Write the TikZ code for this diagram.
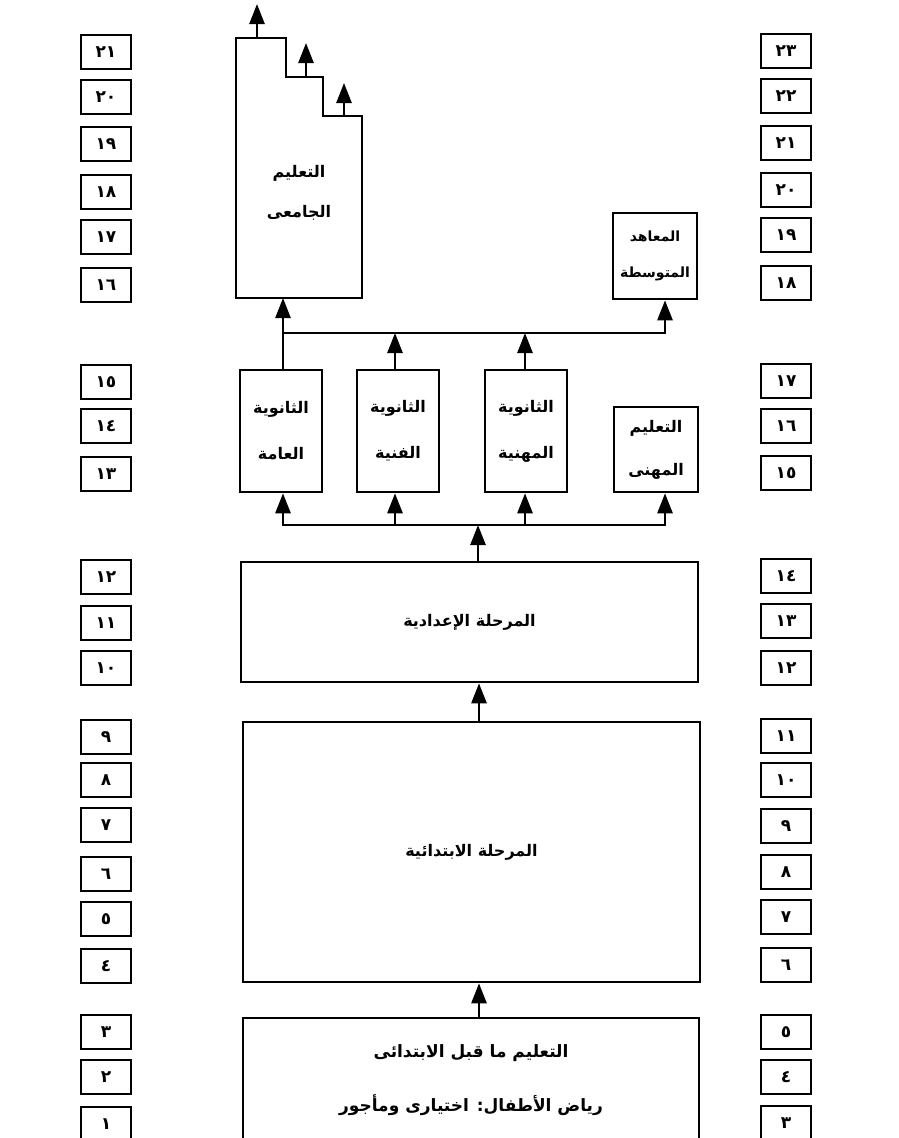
\documentclass[tikz,border=0pt]{standalone}
\usepackage{fontspec}
\TeXXeTstate=1
\newfontfamily\arabicfont[Script=Arabic]{DejaVu Sans}
\usetikzlibrary{arrows.meta}
\tikzset{
  frame/.style={draw=black, line width=2.6pt},
  stagebox/.style={frame, inner sep=0pt, align=center,
    font=\arabicfont\bfseries\fontsize{16}{#1}\selectfont},
  stagebox/.default=44,
  yearbox/.style={frame, line width=2.2pt, minimum width=50pt, minimum height=34pt,
    inner sep=0pt, font=\arabicfont\bfseries\fontsize{17}{18}\selectfont},
  arr/.style={line width=2.6pt, -{Triangle[length=20pt,width=15pt]}},
  link/.style={line width=2.6pt, line cap=rect},
  lbl/.style={inner sep=0pt, align=center, font=\arabicfont\bfseries\fontsize{16}{#1}\selectfont},
  lbl/.default=40,
  prelbl/.style={inner sep=0pt, font=\arabicfont\bfseries\fontsize{17}{20}\selectfont}
}
\begin{document}
\begin{tikzpicture}[x=1pt,y=-1pt]
\clip (0,0) rectangle (899,1138);
\fill[white] (0,0) rectangle (899,1138);

% ---- year boxes, left column
\foreach \t/\yy/\n in {٢١/52/l21, ٢٠/97/l20, ١٩/144/l19, ١٨/192/l18, ١٧/237/l17, ١٦/285/l16,
  ١٥/382/l15, ١٤/426/l14, ١٣/474/l13, ١٢/577/l12, ١١/623/l11, ١٠/668/l10,
  ٩/737/l9, ٨/780/l8, ٧/825/l7, ٦/874/l6, ٥/919/l5, ٤/966/l4,
  ٣/1032/l3, ٢/1077/l2, ١/1124/l1}
  \node[yearbox] (\n) at (106,\yy) {\t};
% ---- year boxes, right column
\foreach \t/\yy/\n in {٢٣/51/r23, ٢٢/96/r22, ٢١/143/r21, ٢٠/190/r20, ١٩/235/r19, ١٨/283/r18,
  ١٧/381/r17, ١٦/426/r16, ١٥/473/r15, ١٤/576/r14, ١٣/621/r13, ١٢/668/r12,
  ١١/736/r11, ١٠/780/r10, ٩/826/r9, ٨/872/r8, ٧/917/r7, ٦/965/r6,
  ٥/1032/r5, ٤/1077/r4, ٣/1123/r3}
  \node[yearbox] (\n) at (786,\yy) {\t};

% ---- university (stepped outline)
\draw[frame, line join=miter] (236,298) -- (236,38) -- (286,38) -- (286,77) -- (323,77)
  -- (323,116) -- (362,116) -- (362,298) -- cycle;
\node[lbl=40] (univ) at (299,193) {\beginR التعليم\endR\\\beginR الجامعى\endR};
\coordinate (ub) at (283,298);
\coordinate (s1) at (257,38);  \coordinate (e1) at (257,4);
\coordinate (s2) at (306,77);  \coordinate (e2) at (306,43);
\coordinate (s3) at (344,116); \coordinate (e3) at (344,83);
\draw[arr] (s1) -- (e1);
\draw[arr] (s2) -- (e2);
\draw[arr] (s3) -- (e3);

% ---- intermediate institutes
\node[stagebox=36, minimum width=84pt, minimum height=86pt,
  font=\arabicfont\bfseries\fontsize{14}{36}\selectfont] (inst) at (655,256)
  {\beginR المعاهد\endR\\\beginR المتوسطة\endR};

% ---- secondary level
\node[stagebox=46, minimum width=82pt, minimum height=122pt] (gen) at (281,431)
  {\beginR الثانوية\endR\\\beginR العامة\endR};
\node[stagebox=46, minimum width=82pt, minimum height=122pt] (tech) at (398,431)
  {\beginR الثانوية\endR\\\beginR الفنية\endR};
\node[stagebox=46, minimum width=82pt, minimum height=122pt] (vsec) at (526,431)
  {\beginR الثانوية\endR\\\beginR المهنية\endR};
\node[stagebox=43, minimum width=84pt, minimum height=85pt] (voc) at (656,449.5)
  {\beginR التعليم\endR\\\beginR المهنى\endR};

% ---- preparatory, primary, pre-primary
\node[stagebox, minimum width=457pt, minimum height=120pt] (prep) at (469.5,622)
  {\beginR المرحلة الإعدادية\endR};
\node[stagebox, minimum width=457pt, minimum height=260pt] (prim) at (471.5,852)
  {\beginR المرحلة الابتدائية\endR};
\node[frame, minimum width=456pt, minimum height=160pt, inner sep=0pt] (pre) at (471,1098) {};
\node[prelbl] (preA) at (471,1053) {\beginR التعليم ما قبل الابتدائى\endR};
\node[prelbl] (preB) at (471,1105) {\beginR رياض الأطفال: اختيارى ومأجور\endR};

% ---- connectors
\coordinate (pa) at (479,0);
\draw[arr] (prim.north -| pa) -- (prep.south -| pa);
\draw[arr] (pre.north -| pa) -- (prim.south -| pa);

% lower bus
\coordinate (j1) at (283,525);
\coordinate (j2) at (395,525);
\coordinate (j3) at (525,525);
\coordinate (j4) at (665,525);
\coordinate (jc) at (478,525);
\draw[link] (j1) -- (j4);
\draw[arr] (prep.north -| jc) -- (jc);
\draw[arr] (j1) -- (j1 |- gen.south);
\draw[arr] (j2) -- (j2 |- tech.south);
\draw[arr] (j3) -- (j3 |- vsec.south);
\draw[arr] (j4) -- (j4 |- voc.south);

% upper bus
\coordinate (k1) at (283,333);
\coordinate (k2) at (395,333);
\coordinate (k3) at (525,333);
\coordinate (k4) at (665,333);
\draw[link] (k1) -- (k4);
\draw[arr] (k1 |- gen.north) -- (ub);
\draw[arr] (k2 |- tech.north) -- (k2);
\draw[arr] (k3 |- vsec.north) -- (k3);
\draw[arr] (k4) -- (k4 |- inst.south);
\end{tikzpicture}
\end{document}
